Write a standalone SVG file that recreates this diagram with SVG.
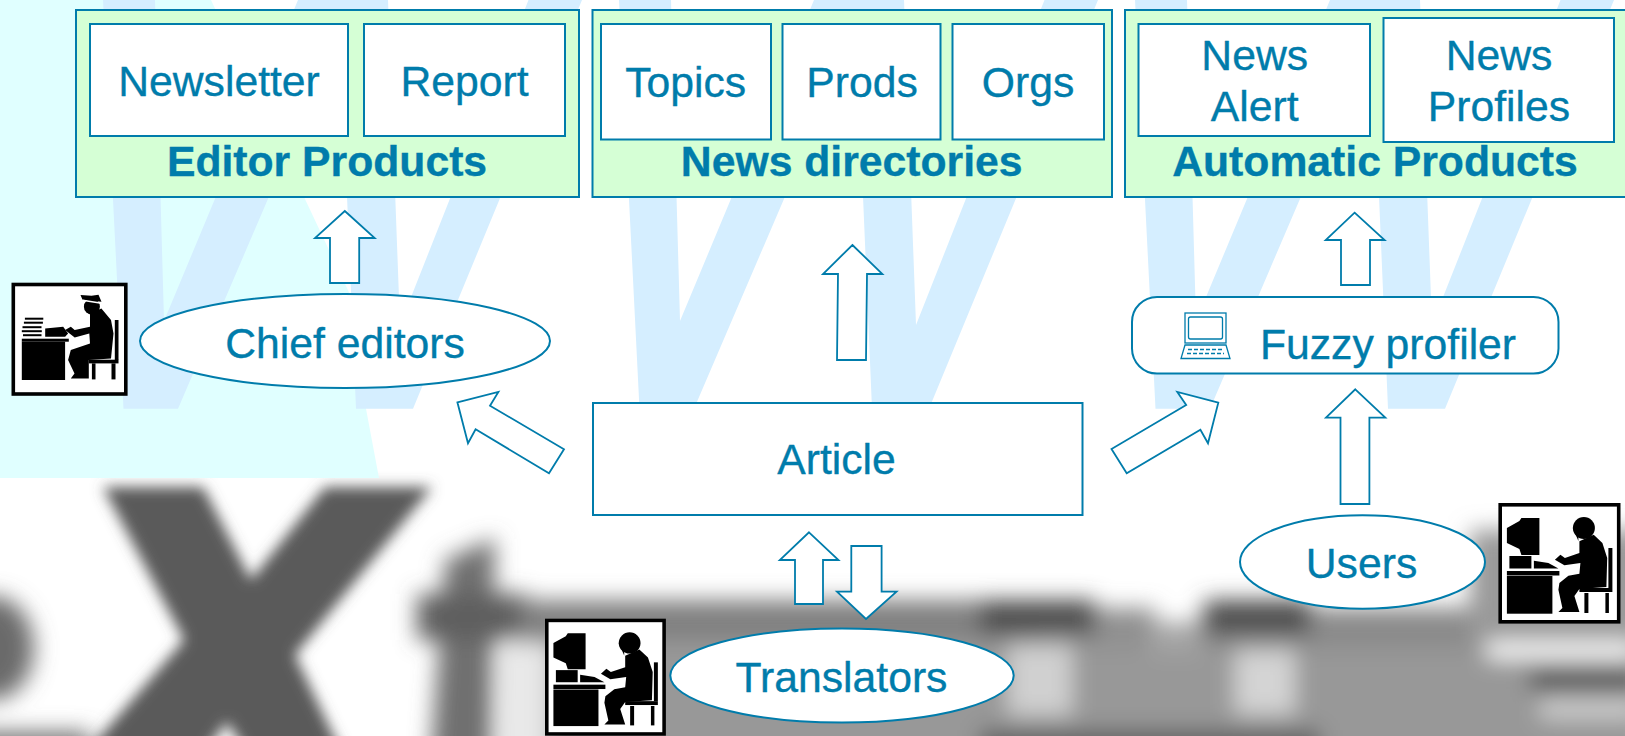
<svg xmlns="http://www.w3.org/2000/svg" xmlns:xlink="http://www.w3.org/1999/xlink" width="1625" height="736" viewBox="0 0 1625 736">
<style>
.box{fill:#fff;stroke:#007cab;stroke-width:2}
.grp{fill:#d5ffd5;stroke:#007cab;stroke-width:2}
.arrow{fill:#fff;stroke:#007cab;stroke-width:1.8;stroke-linejoin:miter}
.t{font-family:"Liberation Sans",Arial,sans-serif;font-size:42.7px;fill:#007cab;stroke:#007cab;stroke-width:.35;text-anchor:middle}
.b{font-weight:bold}
.w{fill:#d5eeff}
.ln{fill:none;stroke:#007cab;stroke-width:1.3}
</style>
<defs>
<filter id="blurx" filterUnits="userSpaceOnUse" x="-60" y="440" width="700" height="360"><feGaussianBlur stdDeviation="7"/></filter>
<filter id="blur" filterUnits="userSpaceOnUse" x="-60" y="440" width="1760" height="360"><feGaussianBlur stdDeviation="11"/></filter>
<polygon id="wshape" points="103,0 155,0 164,321 298,0 388,0 400,325 528.500,0 582,0 413,408.700 356,408.700 340,31 178,408.700 123.500,408.700"/>
<g id="pc">
<rect x="1.800" y="1.800" width="118.500" height="117" fill="#fff" stroke="#000" stroke-width="3.600"/>
<polygon points="8.500,25 21,18 23,15 41,15 41,52 23,52 21,46 8.500,40"/>
<rect x="11" y="53" width="22" height="12.500"/>
<polygon points="35.500,57.700 50,60 60,65.500 35.500,65.500"/>
<rect x="8.500" y="68" width="52.500" height="4.500"/>
<rect x="8.500" y="73" width="45.500" height="37.700"/>
<ellipse cx="85.500" cy="25" rx="11" ry="11"/>
<polygon points="74,24 76,30 80,32 80,38"/>
<polygon points="81,38.300 95.300,31.700 104,40 108.800,55 108,84 81,86 76,93 81,109 60,109 64,105 60,86.700 61,80 70,72.700 81,70.700 82,60 66,62.300 56.500,56.700 62,51.700 66.500,55 81,50"/>
<rect x="110" y="45" width="4" height="40"/>
<rect x="81" y="85" width="33" height="4"/>
<rect x="86" y="90" width="4" height="20"/>
<rect x="107" y="90" width="3.500" height="20"/>
</g>
<g id="typist">
<rect x="1.800" y="1.800" width="112.500" height="109.500" fill="#fff" stroke="#000" stroke-width="3.600"/>
<rect x="13.400" y="35" width="18.400" height="2"/>
<rect x="12.400" y="39" width="19" height="2"/>
<rect x="11" y="43.500" width="19" height="2"/>
<rect x="10.300" y="47.500" width="20" height="2"/>
<rect x="11.500" y="51.500" width="18.500" height="2"/>
<polygon points="33.700,45.700 51.700,44 56.600,50.700 53.600,54 33.700,54"/>
<rect x="10.300" y="56" width="47" height="3"/>
<rect x="10.300" y="59" width="43.300" height="38.300"/>
<polygon points="69,12.300 80,13 87,12 90,19 71,17"/>
<ellipse cx="80.400" cy="24" rx="8" ry="8"/>
<line x1="71" y1="17.500" x2="90" y2="20.500" stroke="#fff" stroke-width="1.600"/>
<polygon points="89.900,25.700 99.500,37.300 102,50.700 99.500,75.700 77.300,77.300 77.300,95.700 59.300,95.700 63,90.700 56.600,77.300 59.300,67.300 78.500,60.700 77.800,50.700 63.200,54.700 53.600,47.300 59.300,44 63.200,47.300 78.500,44 78.500,30.700"/>
<rect x="103.300" y="37.300" width="3.700" height="40"/>
<rect x="77.300" y="77" width="29.700" height="3.700"/>
<rect x="80.400" y="80.700" width="3.600" height="16"/>
<rect x="100" y="80.700" width="4" height="16"/>
</g>
</defs>
<rect width="1625" height="736" fill="#fff"/>
<g id="background">
<g filter="url(#blur)">
<ellipse cx="-8" cy="648" rx="42" ry="52" fill="#6a6a6a"/>
<rect x="-40" y="732" width="130" height="40" fill="#707070"/>
<polygon points="445,560 495,538 492,770 430,770" fill="#707070"/>
<rect x="417" y="594" width="110" height="46" fill="#5f5f5f"/>
<rect x="500" y="642" width="46" height="120" fill="#e8e8e8"/>
<rect x="520" y="600" width="520" height="42" fill="#808080"/>
<rect x="550" y="640" width="1100" height="130" fill="#989898"/>
<rect x="1035" y="608" width="120" height="40" fill="#909090"/>
<rect x="1150" y="622" width="60" height="30" fill="#a5a5a5"/>
<rect x="1200" y="608" width="300" height="40" fill="#8a8a8a"/>
<rect x="980" y="600" width="115" height="34" fill="#4e4e4e"/>
<rect x="1205" y="600" width="105" height="34" fill="#4e4e4e"/>
<rect x="1470" y="530" width="180" height="115" fill="#9a9a9a"/>
<rect x="1008" y="645" width="64" height="70" fill="#d0d0d0"/>
<rect x="1235" y="650" width="60" height="64" fill="#d4d4d4"/>
<rect x="1487" y="642" width="150" height="16" fill="#fff"/>
<rect x="1530" y="670" width="110" height="20" fill="#4e4e4e"/>
<rect x="1540" y="700" width="100" height="18" fill="#d0d0d0"/>
<rect x="980" y="730" width="340" height="30" fill="#5e5e5e"/>
</g>
<polygon filter="url(#blurx)" points="103,487 203,487 251,580 325,487 432,487 295,655 345,760 250,760 227,722 200,760 80,760 184,640" fill="#5a5a5a"/>
<polygon points="0,0 211,0 355,305 366,408.700 379,478 0,478" fill="#e0ffff"/>
<use xlink:href="#wshape" href="#wshape" class="w"/>
<use xlink:href="#wshape" href="#wshape" class="w" x="516"/>
<use xlink:href="#wshape" href="#wshape" class="w" x="1032"/>
</g>
<g id="connectors">
<polygon class="arrow" points="344.800,211 374.700,238 359.200,238 359.200,283 330,283 330,238 315,238"/>
<polygon class="arrow" points="852.400,245 882.400,274 867,274 866,360 837,360 838,274 823,274"/>
<polygon class="arrow" points="1354.600,212.700 1384.600,240 1370,240 1370,285 1341,285 1341,240 1325.700,240"/>
<polygon class="arrow" points="1355.300,389.300 1385.300,417.700 1369.400,417.700 1369.400,504 1340.500,504 1340.500,417.700 1326,417.700"/>
<polygon class="arrow" points="457.400,402.300 498.400,392 490,405.700 564,449.300 549,473.300 475.600,429.300 468,443.300"/>
<polygon class="arrow" points="1218.300,402.700 1177.300,392 1186.200,405 1111.500,449 1126.700,473.300 1200.400,429.700 1208,443.300"/>
<polygon class="arrow" points="809,532.300 838.500,560 823,560 823,604 795,604 795,560 779.800,560"/>
<polygon class="arrow" points="866,619 896.500,591.700 881.600,591.700 881.600,546 851.300,546 851.300,591.700 837,591.700"/>
</g>
<g id="editor-products">
<rect class="grp" x="76" y="10" width="503" height="187"/>
<text class="t b" x="327" y="176">Editor Products</text>
</g>
<g id="newsletter"><rect class="box" x="90" y="24" width="258" height="112"/><text class="t" x="219" y="96">Newsletter</text></g>
<g id="report"><rect class="box" x="364" y="24" width="201" height="112"/><text class="t" x="464.500" y="96">Report</text></g>
<g id="news-directories">
<rect class="grp" x="592.500" y="10" width="519.500" height="187"/>
<text class="t b" x="851.700" y="176">News directories</text>
</g>
<g id="topics"><rect class="box" x="601" y="24" width="170" height="115.500"/><text class="t" x="685.700" y="96.500">Topics</text></g>
<g id="prods"><rect class="box" x="782.500" y="24" width="158" height="115.500"/><text class="t" x="862" y="96.500">Prods</text></g>
<g id="orgs"><rect class="box" x="952.500" y="24" width="151.500" height="115.500"/><text class="t" x="1028" y="96.500">Orgs</text></g>
<g id="automatic-products">
<rect class="grp" x="1125" y="10" width="510" height="187"/>
<text class="t b" x="1375" y="176">Automatic Products</text>
</g>
<g id="news-alert"><rect class="box" x="1138.500" y="24" width="231.500" height="112"/><text class="t" x="1254.700" y="69.500">News</text><text class="t" x="1254.700" y="120.700">Alert</text></g>
<g id="news-profiles"><rect class="box" x="1383.500" y="18" width="230.500" height="124"/><text class="t" x="1499" y="69.500">News</text><text class="t" x="1499" y="120.700">Profiles</text></g>
<g id="chief-editors">
<use xlink:href="#typist" href="#typist" transform="translate(11.500,282.700)"/>
<ellipse class="box" cx="345" cy="341" rx="205" ry="47"/>
<text class="t" x="345" y="357.700">Chief editors</text>
</g>
<g id="fuzzy-profiler">
<rect class="box" x="1132" y="297" width="426.500" height="76.500" rx="25" ry="25"/>
<rect class="ln" x="1185" y="313" width="41" height="30"/>
<rect class="ln" x="1188.500" y="317" width="34" height="22" rx="2"/>
<polygon class="ln" points="1185,345 1226,345 1230,358.500 1181,358.500"/>
<path d="M1188 349.500H1223M1187 353.500H1224" stroke="#007cab" stroke-width="1.500" stroke-dasharray="4 2" fill="none"/>
<text class="t" x="1388" y="358.700">Fuzzy profiler</text>
</g>
<g id="article"><rect class="box" x="593" y="403" width="489.500" height="112"/><text class="t" x="836.500" y="474">Article</text></g>
<g id="translators">
<use xlink:href="#pc" href="#pc" transform="translate(545,618.700) scale(.99,.97)"/>
<ellipse class="box" cx="842" cy="675.500" rx="171.700" ry="47"/>
<text class="t" x="841.500" y="691.700">Translators</text>
</g>
<g id="users">
<use xlink:href="#pc" href="#pc" transform="translate(1498.400,503)"/>
<ellipse class="box" cx="1362.500" cy="562" rx="122.500" ry="46.700"/>
<text class="t" x="1361.500" y="577.700">Users</text>
</g>
</svg>
